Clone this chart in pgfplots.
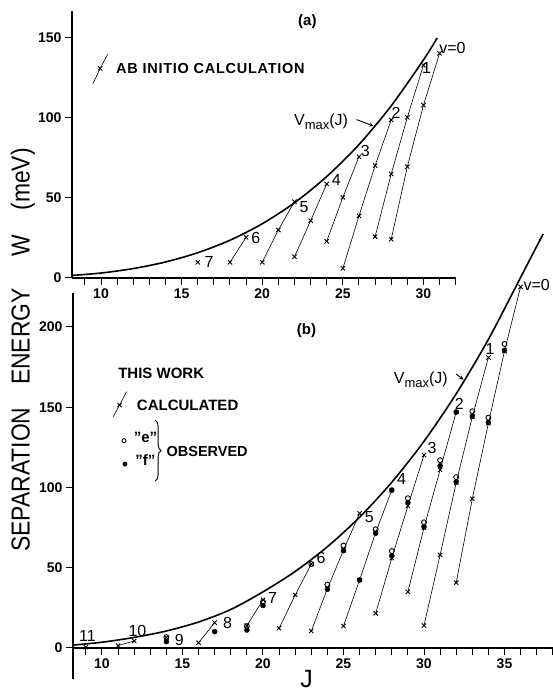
\documentclass[border=0pt]{standalone}
\usepackage{fontspec}
\setmainfont{Liberation Sans}
\usepackage{pgfplots}
\pgfplotsset{compat=1.18}
\usetikzlibrary{decorations.pathreplacing}

\newcommand\vmaxtext{{\fontsize{16}{18}\selectfont V\raisebox{-3.5pt}{\fontsize{13}{14}\selectfont max}(J)}}

\pgfplotsset{
  panel/.style={
    scale only axis, enlargelimits=false, clip=false,
    axis x line=bottom, axis y line=left,
    axis line style={-, line width=1.2pt},
    tick align=outside, major tick length=7pt, minor tick length=7pt,
    every tick/.append style={black, line width=1pt},
    every minor tick/.append style={black, line width=1pt},
    xtick pos=bottom, ytick pos=left,
    tick label style={font=\fontsize{14}{16}\selectfont\bfseries},
    /pgf/number format/assume math mode=true,
  },
  calc/.style={black, line width=0.6pt, mark=x, mark size=3pt, mark options={line width=0.9pt}},
  obse/.style={black, only marks, mark=o, mark size=2.5pt, mark options={fill=white, line width=0.9pt}},
  obsf/.style={black, only marks, mark=*, mark size=2.5pt},
  vmax/.style={black, line width=1.6pt, smooth, no marks},
}
\tikzset{lab/.style={font=\fontsize{16}{18}\selectfont, inner sep=0pt}}

\begin{document}
\begin{tikzpicture}

% ---------------- (a) ab initio ----------------
\begin{axis}[panel, at={(72pt,414pt)}, anchor=south west,
  width=383.7pt, height=267.2pt,
  xmin=8.2, xmax=32, ymin=0, ymax=167,
  xtick={10,15,20,25,30}, minor xtick={9,...,32},
  ytick={0,50,100,150}]

\addplot[vmax] coordinates {
  (8.2,1.6) (10,3.1) (12,5.9) (14,10) (16,15.8) (18,23.6) (20,33.9)
  (22,47) (24,63.4) (26,83.4) (28,107.6) (30,136.3) (30.85,150)
};

\addplot[calc] coordinates {(28,24.2) (29,69.6) (30,108) (31,140.4)};
\addplot[calc] coordinates {(27,25.8) (28,65) (29,100.4) (30,133)};
\addplot[calc] coordinates {(25,6) (26,38.8) (27,70.2) (28,98.8)};
\addplot[calc] coordinates {(24,22.9) (25,50.4) (26,75.8)};
\addplot[calc] coordinates {(22,13.3) (23,35.8) (24,58.8)};
\addplot[calc] coordinates {(20,9.8) (21,30) (22,47.7)};
\addplot[calc] coordinates {(18,9.8) (19,25.4)};
\addplot[calc] coordinates {(16,9.8)};

% legend symbol
\addplot[calc, mark indices={2}] coordinates {(9.49,121.3) (9.95,131) (10.42,140)};
\node[anchor=west, inner sep=0pt, font=\fontsize{14.5}{16}\selectfont\bfseries\addfontfeatures{LetterSpace=5}]
  at (axis cs:10.93,131) {AB INITIO CALCULATION};

\node[lab] at (axis cs:31.8,143.5) {v=0};
\node[lab] at (axis cs:30.2,131) {1};
\node[lab] at (axis cs:28.3,103.3) {2};
\node[lab] at (axis cs:26.4,79.6) {3};
\node[lab] at (axis cs:24.6,61.3) {4};
\node[lab] at (axis cs:22.6,44.2) {5};
\node[lab] at (axis cs:19.6,24.8) {6};
\node[lab] at (axis cs:16.7,9.8) {7};

\node[inner sep=0pt, font=\fontsize{15}{17}\selectfont\bfseries] at (axis cs:22.8,160) {(a)};
\node[inner sep=0pt] at (axis cs:23.65,97.7) {\vmaxtext};
\draw[-stealth, line width=0.9pt] (axis cs:25.85,99) -- (axis cs:26.9,95);
\end{axis}

% ---------------- (b) this work ----------------
\begin{axis}[panel, at={(73pt,44pt)}, anchor=south west,
  width=479.8pt, height=354.7pt,
  xmin=8.2, xmax=38, ymin=0, ymax=221,
  xtick={10,15,20,25,30,35}, minor xtick={9,...,38},
  ytick={0,50,100,150,200}]

\draw[line width=1.2pt] (axis cs:8.2,0) -- (axis cs:8.2,-19.3);

\addplot[vmax] coordinates {
  (8.2,1.8) (10,3.6) (12,6.6) (14,10.6) (16,16.2) (18,24) (20,35)
  (22,47.7) (24,63.1) (26,81.5) (28,103.3) (30,128.8) (32,158.4)
  (34,192.3) (36,230.9) (37.4,258)
};

% calculated
\addplot[calc] coordinates {(32,40.7) (33,93) (34,140) (35,185) (36,225)};
\addplot[calc] coordinates {(30,14) (31,58) (32,103) (33,144) (34,181)};
\addplot[calc] coordinates {(29,35) (30,75) (31,111) (32,147)};
\addplot[calc] coordinates {(27,21.6) (28,56) (29,88.5) (30,120.2)};
\addplot[calc] coordinates {(25,13.7) (26,42.4) (27,72) (28,98.4)};
\addplot[calc] coordinates {(23,10.6) (24,37) (25,61) (26,83.9)};
\addplot[calc] coordinates {(21,12.3) (22,33) (23,52.3)};
\addplot[calc] coordinates {(19,14) (20,30)};
\addplot[calc] coordinates {(16,3.3) (17,15.8)};
\addplot[calc] coordinates {(14,6.6)};
\addplot[calc] coordinates {(11,1.5) (12,4.4)};
\addplot[calc] coordinates {(9,0.5)};

% observed "f"
\addplot[obsf] coordinates {
  (34,140.5) (35,185.5) (32,103.5) (33,144.5) (30,75.5) (31,113.5) (32,147)
  (28,57.5) (29,90.5) (26,42.4) (27,71.5) (28,98.4) (24,36.6) (25,60.6)
  (19,11.2) (20,26.5) (17,10.2) (14,3.9)
};
% observed "e"
\addplot[obse] coordinates {
  (34,143.5) (35,189.4) (32,106.5) (33,147.5) (30,78.3) (31,117)
  (28,60.4) (29,93.3) (27,74) (24,39.5) (25,63.8) (23,52.3)
  (20,28.8) (19,13.6) (14,6.8)
};

% legend
\node[anchor=west, inner sep=0pt, font=\fontsize{15}{17}\selectfont\bfseries] at (axis cs:11.0,171.1) {THIS WORK};
\addplot[calc, mark indices={2}] coordinates {(10.70,144.1) (11.09,151.4) (11.53,159.7)};
\node[anchor=west, inner sep=0pt, font=\fontsize{15}{17}\selectfont\bfseries] at (axis cs:12.16,151.4) {CALCULATED};
\addplot[obse, mark size=2pt] coordinates {(11.37,129.2)};
\addplot[obsf, mark size=2.2pt] coordinates {(11.43,114.6)};
\node[inner sep=0pt, font=\fontsize{15}{17}\selectfont\bfseries] at (axis cs:12.7,131.5) {"e"};
\node[inner sep=0pt, font=\fontsize{15}{17}\selectfont\bfseries] at (axis cs:12.7,116.8) {"f"};
\draw[decorate, decoration={brace, amplitude=6pt}, line width=0.9pt] (axis cs:13.3,142) -- (axis cs:13.3,104);
\node[anchor=west, inner sep=0pt, font=\fontsize{14.5}{16}\selectfont\bfseries] at (axis cs:14.0,122.3) {OBSERVED};

\node[lab] at (axis cs:37.0,226) {v=0};
\node[lab] at (axis cs:34.1,186) {1};
\node[lab] at (axis cs:32.2,152) {2};
\node[lab] at (axis cs:30.5,124.4) {3};
\node[lab] at (axis cs:28.6,105.3) {4};
\node[lab] at (axis cs:26.6,81.8) {5};
\node[lab] at (axis cs:23.6,55.9) {6};
\node[lab] at (axis cs:20.6,31) {7};
\node[lab] at (axis cs:17.8,15.8) {8};
\node[lab] at (axis cs:14.8,5) {9};
\node[lab] at (axis cs:12.2,10.8) {10};
\node[lab] at (axis cs:9.1,7.7) {11};

\node[inner sep=0pt, font=\fontsize{15}{17}\selectfont\bfseries] at (axis cs:22.7,198) {(b)};
\node[inner sep=0pt] at (axis cs:29.8,167) {\vmaxtext};
\draw[-stealth, line width=0.9pt] (axis cs:32.0,170.7) -- (axis cs:32.45,167.2);
\end{axis}

\node[rotate=90, inner sep=0pt, font=\fontsize{26}{30}\selectfont] at (23pt,342pt)
  {\scalebox{0.88}[1]{SEPARATION\hspace{1em}ENERGY\hspace{1.4em}W\hspace{1.05em}(meV)}};
\node[inner sep=0pt, font=\fontsize{25}{30}\selectfont] at (306.5pt,13pt) {J};

\pgfresetboundingbox
\useasboundingbox (0,0) rectangle (553pt,692pt);
\end{tikzpicture}
\end{document}
